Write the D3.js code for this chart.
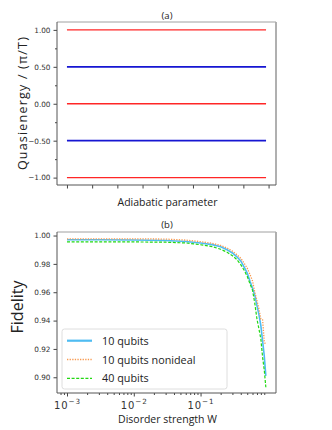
<!DOCTYPE html>
<html>
<head>
  <meta charset="utf-8">
  <script src="https://d3js.org/d3.v7.min.js"></script>
  <style>
    body { margin: 0; background: #fff; }
    svg { display: block; }
  </style>
</head>
<body>
<div id="chart"></div>
<script>
  // ---- panel (a) data ----
  var adiabaticRange = [0, 7.9];
  var adiabaticTicks = [0, 1, 2, 3, 4, 5, 6, 7, 8];
  var redLevels = [1, 0, -1];
  var blueLevels = [0.5, -0.5];
  var quasiTicks = [1, 0.5, 0, -0.5, -1];
  var quasiMinor = [0.75, 0.25, -0.25, -0.75];

  // ---- panel (b) data ----
  var disorderW = [0.001, 0.003, 0.01, 0.03, 0.06, 0.1, 0.15, 0.2, 0.25, 0.3, 0.35, 0.4,
                   0.45, 0.5, 0.55, 0.6, 0.65, 0.7, 0.75, 0.8, 0.85, 0.9, 0.95];
  var fid10 = [0.9970, 0.9970, 0.9969, 0.9965, 0.9958, 0.9947, 0.9936, 0.9921, 0.9900, 0.9877, 0.9850, 0.9821,
               0.9778, 0.9735, 0.9677, 0.9630, 0.9578, 0.9505, 0.9440, 0.9365, 0.9255, 0.9150, 0.9010];
  var fid10nonideal = [0.9977, 0.9977, 0.9977, 0.9975, 0.9968, 0.9957, 0.9945, 0.9930, 0.9912, 0.9890, 0.9865, 0.9840,
                       0.9805, 0.9770, 0.9725, 0.9680, 0.9600, 0.9540, 0.9480, 0.9410, 0.9405, 0.9250, 0.9228];
  var fid40 = [0.9955, 0.9955, 0.9955, 0.9953, 0.9948, 0.9935, 0.9922, 0.9903, 0.9882, 0.9858, 0.9830, 0.9795,
               0.9755, 0.9712, 0.9660, 0.9615, 0.9520, 0.9410, 0.9340, 0.9270, 0.9140, 0.9050, 0.8930];
  var fidTicks = [1.00, 0.98, 0.96, 0.94, 0.92, 0.90];
  var wTicks = [0.001, 0.01, 0.1];
  var wTickExp = ["\u22123", "\u22122", "\u22121"];

  var series = [
    {name: "10 qubits", values: fid10, color: "#4fbcf2", width: 1.6, dash: null},
    {name: "10 qubits nonideal", values: fid10nonideal, color: "#f89a50", width: 1.3, dash: "1.3,1.3"},
    {name: "40 qubits", values: fid40, color: "#22d812", width: 1.2, dash: "3,1.6"}
  ];

  var tickFont = "'DejaVu Sans', sans-serif";
  var labelFont = "'Open Sans', sans-serif";

  var svg = d3.select("#chart").append("svg")
    .attr("width", 332).attr("height", 430);

  function frame(g, w, h) {
    g.append("line").attr("x1", 0).attr("x2", w).attr("y1", 0).attr("y2", 0)
      .attr("stroke", "#a0a0a0").attr("stroke-width", 1);
    g.append("line").attr("x1", w).attr("x2", w).attr("y1", 0).attr("y2", h)
      .attr("stroke", "#a8a8a8").attr("stroke-width", 1.8);
    g.append("line").attr("x1", 0).attr("x2", 0).attr("y1", 0).attr("y2", h)
      .attr("stroke", "#555").attr("stroke-width", 1);
    g.append("line").attr("x1", 0).attr("x2", w).attr("y1", h).attr("y2", h)
      .attr("stroke", "#555").attr("stroke-width", 1);
  }

  function styleAxis(ax) {
    ax.select(".domain").remove();
    ax.selectAll(".tick line").attr("stroke", "#444");
    ax.selectAll(".tick text").attr("font-family", tickFont).attr("font-size", 7.3).attr("fill", "#333");
  }

  // ================= panel (a) =================
  var wA = 219, hA = 163;
  var gA = svg.append("g").attr("transform", "translate(57,22)");
  var xA = d3.scaleLinear().domain([-0.395, 8.295]).range([0, wA]);
  var yA = d3.scaleLinear().domain([-1.1, 1.1]).range([hA, 0.5]);

  gA.append("g").attr("transform", "translate(0," + hA + ")")
    .call(d3.axisBottom(xA).tickValues(adiabaticTicks).tickSize(3.5).tickFormat(""))
    .call(styleAxis);
  gA.append("g")
    .call(d3.axisLeft(yA).tickValues(quasiTicks).tickSize(3.5).tickPadding(3)
      .tickFormat(function(d) { return d3.format(".2f")(d).replace("-", "\u2212"); }))
    .call(styleAxis);
  gA.append("g")
    .call(d3.axisLeft(yA).tickValues(quasiMinor).tickSize(2).tickFormat(""))
    .call(styleAxis);

  var lineA = d3.line().x(function(d) { return xA(d[0]); }).y(function(d) { return yA(d[1]); });
  blueLevels.forEach(function(v) {
    gA.append("path").datum(adiabaticRange.map(function(x) { return [x, v]; }))
      .attr("d", lineA).attr("fill", "none").attr("stroke", "#1616d2").attr("stroke-width", 1.7);
  });
  redLevels.forEach(function(v) {
    gA.append("path").datum(adiabaticRange.map(function(x) { return [x, v]; }))
      .attr("d", lineA).attr("fill", "none").attr("stroke", "#ff2626").attr("stroke-width", 1.3);
  });
  frame(gA, wA, hA);

  gA.append("text").attr("x", wA / 2 + 0.5).attr("y", -3).attr("text-anchor", "middle")
    .attr("font-family", labelFont).attr("font-size", 9.5).attr("fill", "#222").text("(a)");
  gA.append("text").attr("x", wA / 2 + 1).attr("y", hA + 21).attr("text-anchor", "middle")
    .attr("font-family", labelFont).attr("font-size", 10.5).attr("fill", "#222").text("Adiabatic parameter");
  svg.append("text").attr("transform", "translate(27,103) rotate(-90)").attr("text-anchor", "middle")
    .attr("font-family", labelFont).attr("font-size", 12.5).attr("letter-spacing", 1.2).attr("fill", "#222")
    .text("Quasienergy / (\u03c0/T)");

  // ================= panel (b) =================
  var wB = 219, hB = 161;
  var gB = svg.append("g").attr("transform", "translate(57,232)");
  var xB = d3.scaleLog().domain([Math.pow(10, -3.15), Math.pow(10, 0.13)]).range([0, wB]);
  var yB = d3.scaleLinear().domain([0.8889, 1.0025]).range([hB, 0]);

  var minorW = [];
  [-4, -3, -2, -1, 0].forEach(function(e) {
    for (var k = 2; k <= 9; k++) {
      var v = k * Math.pow(10, e);
      if (v > xB.domain()[0] && v < xB.domain()[1]) minorW.push(v);
    }
  });

  var xAxB = gB.append("g").attr("transform", "translate(0," + hB + ")")
    .call(d3.axisBottom(xB).tickValues(wTicks).tickSize(3.5).tickFormat(""))
    .call(styleAxis);
  gB.append("g").attr("transform", "translate(0," + hB + ")")
    .call(d3.axisBottom(xB).tickValues(minorW).tickSize(2).tickFormat(""))
    .call(styleAxis);
  // tick labels 10^-n as real text
  xAxB.selectAll(".tick").each(function(d, i) {
    var t = d3.select(this).append("text").attr("y", 15.5).attr("fill", "#333")
      .attr("font-family", tickFont).attr("font-size", 10).attr("text-anchor", "middle")
      .attr("letter-spacing", 0.9);
    t.append("tspan").text("10");
    t.append("tspan").attr("dy", -5).attr("font-size", 7.2).text(wTickExp[i]);
  });
  gB.append("g")
    .call(d3.axisLeft(yB).tickValues(fidTicks).tickSize(3.5).tickPadding(3).tickFormat(d3.format(".2f")))
    .call(styleAxis);

  var lineB = d3.line()
    .x(function(d) { return xB(d[0]); })
    .y(function(d) { return yB(d[1]); });
  series.forEach(function(s) {
    gB.append("path")
      .datum(disorderW.map(function(w, i) { return [w, s.values[i]]; }))
      .attr("d", lineB).attr("fill", "none")
      .attr("stroke", s.color).attr("stroke-width", s.width)
      .attr("stroke-dasharray", s.dash);
  });
  frame(gB, wB, hB);

  gB.append("text").attr("x", wB / 2 + 0.5).attr("y", -4).attr("text-anchor", "middle")
    .attr("font-family", labelFont).attr("font-size", 9.5).attr("fill", "#222").text("(b)");
  gB.append("text").attr("x", wB / 2 + 1).attr("y", hB + 30).attr("text-anchor", "middle")
    .attr("font-family", labelFont).attr("font-size", 10.5).attr("fill", "#222").text("Disorder strength W");
  svg.append("text").attr("transform", "translate(23,307) rotate(-90)").attr("text-anchor", "middle")
    .attr("font-family", labelFont).attr("font-size", 16).attr("fill", "#222").text("Fidelity");

  // legend
  var leg = gB.append("g").attr("transform", "translate(5,97)");
  leg.append("rect").attr("width", 165).attr("height", 60).attr("rx", 2.5)
    .attr("fill", "#fff").attr("fill-opacity", 0.85).attr("stroke", "#d6d6d6").attr("stroke-width", 0.8);
  series.forEach(function(s, i) {
    var yy = 11.7 + i * 18.8;
    leg.append("line").attr("x1", 5).attr("x2", 30).attr("y1", yy).attr("y2", yy)
      .attr("stroke", s.color).attr("stroke-width", i === 0 ? 2.2 : s.width)
      .attr("stroke-dasharray", s.dash);
    leg.append("text").attr("x", 40).attr("y", yy + 4).attr("font-family", labelFont)
      .attr("font-size", 10.8).attr("fill", "#222").text(s.name);
  });
</script>
</body>
</html>
